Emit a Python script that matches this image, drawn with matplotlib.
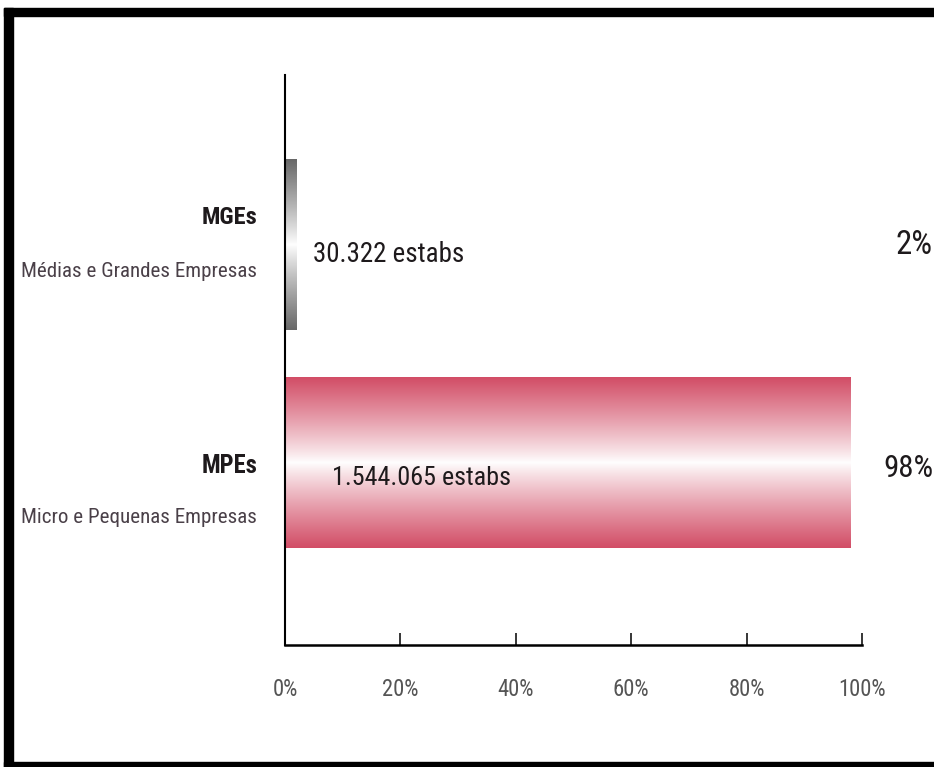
import numpy as np
import matplotlib
matplotlib.use('Agg')
import matplotlib.pyplot as plt
from matplotlib import font_manager, transforms
from matplotlib.colors import to_rgb
from matplotlib.patches import Rectangle

# pick the narrowest sans face that is installed
family = 'DejaVu Sans'
for cand in ['Noto Sans ExtraCondensed', 'Noto Sans Condensed', 'Liberation Sans Narrow',
             'Roboto Condensed', 'DejaVu Sans Condensed']:
    try:
        font_manager.findfont(cand, fallback_to_default=False)
        family = cand
        break
    except ValueError:
        pass
plt.rcParams['font.family'] = [family, 'DejaVu Sans']

# Establishment counts by company size
short_names = ['MPEs', 'MGEs']
long_names = ['Micro e Pequenas Empresas', 'Médias e Grandes Empresas']
counts = [1544065, 30322]
count_labels = ['1.544.065 estabs', '30.322 estabs']
bar_colors = ['#d24d66', '#686868']
xticks = [0, 20, 40, 60, 80, 100]

total = sum(counts)
shares = [100.0 * c / total for c in counts]

fig = plt.figure(figsize=(9.34, 7.67), dpi=100)
ax = fig.add_axes([285/934, 122/767, 577/934, 570/767])

ypos = np.arange(len(counts))
bars = ax.barh(ypos, shares, height=0.78, color='none', edgecolor='none')

# vertical gradient: solid at the edges, white through the middle
prof = np.abs(np.linspace(-1, 1, 256)) ** 0.9
for b, col in zip(bars, bar_colors):
    rgb = np.array(to_rgb(col))
    img = 1 - prof[:, None] * (1 - rgb[None, :])
    x0, y0, w, h = b.get_x(), b.get_y(), b.get_width(), b.get_height()
    ax.imshow(img[:, None, :], extent=[x0, x0 + w, y0, y0 + h],
              aspect='auto', interpolation='bilinear', zorder=2)

ax.set_xlim(0, 100)
ax.set_ylim(-0.835, 1.78)

for s in ['top', 'right']:
    ax.spines[s].set_visible(False)
ax.spines['left'].set_linewidth(1.5)
ax.spines['bottom'].set_linewidth(1.8)
ax.set_yticks([])
ax.set_xticks(xticks)
ax.set_xticklabels(['%d%%' % t for t in xticks])
ax.tick_params(axis='x', direction='in', length=9, width=1.1, pad=24,
               labelsize=17, labelcolor='#555555')

# (text, width in px it should take, largest size allowed)
fits = []

# category names left of the axis
name_off = [(-2, -39), (20, -19)]
for y, sn, ln, (o1, o2) in zip(ypos, short_names, long_names, name_off):
    t1 = ax.annotate(sn, xy=(0, y), xycoords=('axes fraction', 'data'),
                     xytext=(-20, o1), textcoords='offset points',
                     ha='right', va='center', fontsize=20, fontweight='bold',
                     color='#1e1a1c')
    t2 = ax.annotate(ln, xy=(0, y), xycoords=('axes fraction', 'data'),
                     xytext=(-20, o2), textcoords='offset points',
                     ha='right', va='center', fontsize=19, color='#4a4048')
    fits += [(t1, 56, 22), (t2, 236, 22)]

# count labels: inside the long bar, after the short one
for y, s, lab in zip(ypos, shares, count_labels):
    if s > 50:
        xy, dx, dy, w = (0, y), 34, -11, 180
    else:
        xy, dx, dy, w = (s, y), 12, -7, 152
    t = ax.annotate(lab, xy=xy, xytext=(dx, dy), textcoords='offset points',
                    ha='left', va='center', fontsize=24, color='#1e1a1c', zorder=3)
    fits.append((t, w, 28))

# share labels at the right edge
tr = transforms.blended_transform_factory(fig.transFigure, ax.transData)
for y, s, dy in zip(ypos, shares, [-0.025, 0.0]):
    t = ax.text(0.999, y + dy, '%d%%' % round(s), transform=tr, ha='right',
                va='center', fontsize=24, color='#1e1a1c')
    fits.append((t, 37 if s < 10 else 50, 28))

# shrink or grow each label to its slot
fig.canvas.draw()
rend = fig.canvas.get_renderer()
for t, w, mx in fits:
    cur = t.get_window_extent(rend).width
    t.set_fontsize(min(mx, t.get_fontsize() * w / cur))
lab100 = ax.get_xticklabels()[-1]
cur = lab100.get_window_extent(rend).width
ax.tick_params(axis='x', labelsize=min(18, 17 * 48 / cur))

# black frame on top, left and bottom
for r in [(4, 751, 930, 8), (4, 0, 9, 759), (4, 0, 930, 5)]:
    fig.patches.append(Rectangle((r[0]/934, r[1]/767), r[2]/934, r[3]/767,
                                 transform=fig.transFigure, color='black'))

fig.savefig('out.png', dpi=100)
